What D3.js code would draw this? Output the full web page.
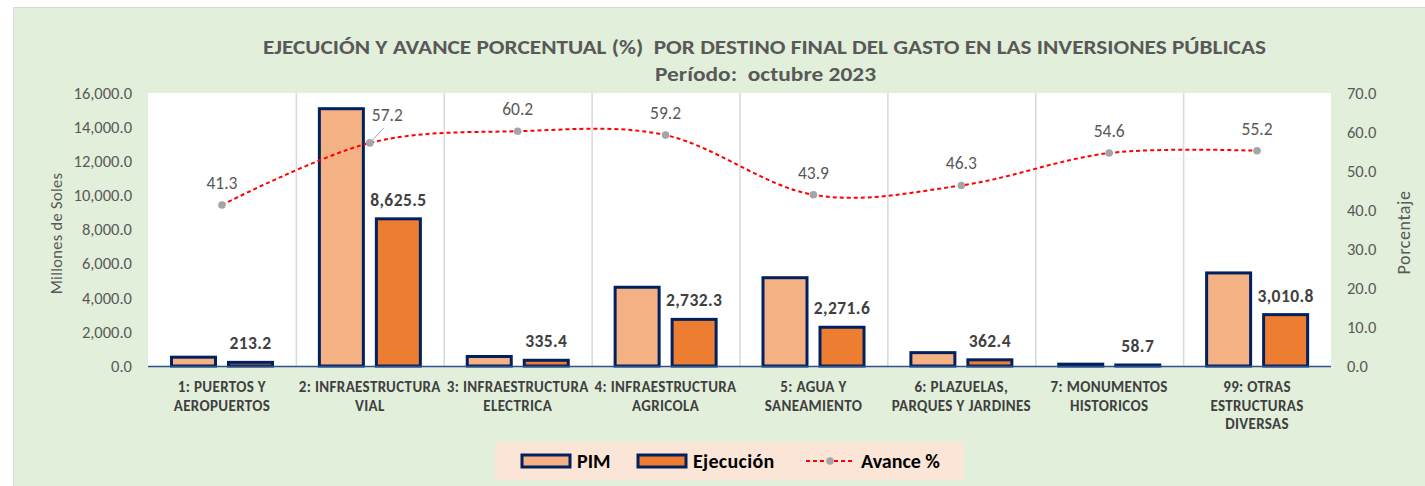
<!DOCTYPE html>
<html><head><meta charset="utf-8">
<script src="https://cdn.jsdelivr.net/npm/d3@7"></script>
<style>
body{margin:0;background:#fff}
svg{display:block}
text{font-family:Carlito,Calibri,Lato,'Open Sans',sans-serif}
</style></head>
<body><svg id="c" width="1425" height="486"></svg>
<script>
const categories = ["1: PUERTOS Y AEROPUERTOS","2: INFRAESTRUCTURA VIAL","3: INFRAESTRUCTURA ELECTRICA","4: INFRAESTRUCTURA AGRICOLA","5: AGUA Y SANEAMIENTO","6: PLAZUELAS, PARQUES Y JARDINES","7: MONUMENTOS HISTORICOS","99: OTRAS ESTRUCTURAS DIVERSAS"];
const categoryLines = [["1: PUERTOS Y","AEROPUERTOS"],["2: INFRAESTRUCTURA","VIAL"],["3: INFRAESTRUCTURA","ELECTRICA"],["4: INFRAESTRUCTURA","AGRICOLA"],["5: AGUA Y","SANEAMIENTO"],["6: PLAZUELAS,","PARQUES Y JARDINES"],["7: MONUMENTOS","HISTORICOS"],["99: OTRAS","ESTRUCTURAS","DIVERSAS"]];
const pim = [516.2, 15079.5, 557.1, 4615.4, 5174.5, 782.7, 107.5, 5454.3];
const ejecucion = [213.2, 8625.5, 335.4, 2732.3, 2271.6, 362.4, 58.7, 3010.8];
const avance = [41.3, 57.2, 60.2, 59.2, 43.9, 46.3, 54.6, 55.2];
const leftTicks = [0, 2000, 4000, 6000, 8000, 10000, 12000, 14000, 16000];
const rightTicks = [0, 10, 20, 30, 40, 50, 60, 70];
const seriesNames = ["PIM", "Ejecución", "Avance %"];
const titleText = "EJECUCIÓN Y AVANCE PORCENTUAL (%)  POR DESTINO FINAL DEL GASTO EN LAS INVERSIONES PÚBLICAS";
const subtitleText = "Período:  octubre 2023";
const leftTitle = "Millones de Soles";
const rightTitle = "Porcentaje";

const svg = d3.select("#c");
const W = 1425, H = 486;
const plot = {l:148, r:1331, t:93, b:366};

svg.append("rect").attr("x",13.5).attr("y",7.5).attr("width",W).attr("height",H)
  .attr("fill","#E2EFDA").attr("stroke","#D9D9D9").attr("stroke-width",1);
svg.append("rect").attr("x",plot.l).attr("y",plot.t).attr("width",plot.r-plot.l).attr("height",plot.b-plot.t).attr("fill","#fff");

const x0 = d3.scaleBand().domain(categories).range([plot.l, plot.r]).padding(0);
const x1 = d3.scaleBand().domain(["PIM","Ejec"]).range([23.5, 124.5]).paddingInner(0.228).paddingOuter(0);
const yL = d3.scaleLinear().domain([0,16000]).range([plot.b, plot.t]);
const yR = d3.scaleLinear().domain([0,70]).range([plot.b, plot.t]);
const fmt1 = d3.format(",.1f");

svg.append("g").selectAll("line").data(categories.slice(1)).join("line")
  .attr("x1",d=>x0(d)+0.5).attr("x2",d=>x0(d)+0.5).attr("y1",plot.t).attr("y2",plot.b)
  .attr("stroke","#D9D9D9").attr("stroke-width",1.5);

const axL = svg.append("g").attr("transform",`translate(${plot.l},0)`)
  .call(d3.axisLeft(yL).tickValues(leftTicks).tickFormat(fmt1).tickSize(0).tickPadding(16));
axL.select(".domain").remove();
axL.selectAll("text").attr("fill","#595959").style("font-size","16.5px").style("font-family","Carlito,Calibri,Lato,sans-serif");

const axR = svg.append("g").attr("transform",`translate(${plot.r},0)`)
  .call(d3.axisRight(yR).tickValues(rightTicks).tickFormat(d3.format(".1f")).tickSize(0).tickPadding(16));
axR.select(".domain").remove();
axR.selectAll("text").attr("fill","#595959").style("font-size","16.5px").style("font-family","Carlito,Calibri,Lato,sans-serif");

svg.append("text").attr("transform",`translate(62,${(plot.t+plot.b)/2+4}) rotate(-90)`)
  .attr("text-anchor","middle").attr("fill","#595959").style("font-size","16.5px").style("letter-spacing","0.3px").text(leftTitle);
svg.append("text").attr("transform",`translate(1410,${(plot.t+plot.b)/2+3}) rotate(-90)`)
  .attr("text-anchor","middle").attr("fill","#595959").style("font-size","18px").style("letter-spacing","0.6px").text(rightTitle);

const groups = svg.append("g").selectAll("g").data(categories).join("g")
  .attr("transform",d=>`translate(${x0(d)},0)`);
groups.append("rect").attr("x",x1("PIM")).attr("width",x1.bandwidth())
  .attr("y",(d,i)=>yL(pim[i])).attr("height",(d,i)=>yL(0)-yL(pim[i]))
  .attr("fill","#F4B183").attr("stroke","#002060").attr("stroke-width",3);
groups.append("rect").attr("x",x1("Ejec")).attr("width",x1.bandwidth())
  .attr("y",(d,i)=>yL(ejecucion[i])).attr("height",(d,i)=>yL(0)-yL(ejecucion[i]))
  .attr("fill","#ED7D31").attr("stroke","#002060").attr("stroke-width",3);
groups.append("text").attr("x",x1("Ejec")+x1.bandwidth()/2)
  .attr("y",(d,i)=>yL(ejecucion[i])-13)
  .attr("text-anchor","middle").attr("fill","#404040").style("font-size","17.5px").style("font-weight","bold").style("letter-spacing","0.4px")
  .text((d,i)=>fmt1(ejecucion[i]));

svg.append("line").attr("x1",plot.l).attr("x2",plot.r).attr("y1",plot.b+0.5).attr("y2",plot.b+0.5)
  .attr("stroke","#2F4F8F").attr("stroke-width",1.5);

const xl = svg.append("g").selectAll("text").data(categories).join("text")
  .attr("x",d=>x0(d)+x0.bandwidth()/2).attr("y",392)
  .attr("text-anchor","middle").attr("fill","#404040").style("font-size","15px").style("font-weight","bold").style("letter-spacing","0.35px");
xl.each(function(d,i){
  d3.select(this).selectAll("tspan").data(categoryLines[i]).join("tspan")
    .attr("x",x0(d)+x0.bandwidth()/2).attr("dy",(t,j)=>j===0?0:18.5).text(t=>t);
});

const cx = d=>x0(d)+x0.bandwidth()/2;
const line = d3.line().x((v,i)=>cx(categories[i])).y(v=>yR(v)).curve(d3.curveCardinal.tension(0));
svg.append("path").datum(avance).attr("d",line).attr("fill","none")
  .attr("stroke","#FF0000").attr("stroke-width",2).attr("stroke-dasharray","4,3");
svg.append("g").selectAll("circle").data(avance).join("circle")
  .attr("cx",(v,i)=>cx(categories[i])).attr("cy",v=>yR(v)).attr("r",3.8).attr("fill","#A5A5A5");
svg.append("line").attr("x1",cx(categories[1])+1).attr("y1",yR(avance[1])-1)
  .attr("x2",cx(categories[1])+14).attr("y2",yR(avance[1])-15).attr("stroke","#A5A5A5").attr("stroke-width",1);
svg.append("g").selectAll("text").data(avance).join("text")
  .attr("x",(v,i)=>i===1?cx(categories[i])+2:cx(categories[i]))
  .attr("y",(v,i)=>i===1?yR(v)-22:yR(v)-16)
  .attr("text-anchor",(v,i)=>i===1?"start":"middle")
  .attr("fill","#595959").style("font-size","17.5px").text(v=>d3.format(".1f")(v));

svg.append("text").attr("x",764.5).attr("y",54).attr("text-anchor","middle").style("white-space","pre")
  .attr("fill","#595959").style("font-size","20px").style("font-weight","bold").text(titleText)
  .attr("textLength",1003).attr("lengthAdjust","spacingAndGlyphs");
svg.append("text").attr("x",765.5).attr("y",81).attr("text-anchor","middle").style("white-space","pre")
  .attr("fill","#595959").style("font-size","20px").style("font-weight","bold").text(subtitleText)
  .attr("textLength",221).attr("lengthAdjust","spacingAndGlyphs");

const lg = svg.append("g");
lg.append("rect").attr("x",495).attr("y",442).attr("width",469).attr("height",38).attr("fill","#FBE5D6");
lg.append("rect").attr("x",522).attr("y",455).attr("width",48).attr("height",12).attr("fill","#F4B183").attr("stroke","#002060").attr("stroke-width",3);
lg.append("text").attr("x",577).attr("y",468).attr("fill","#000").style("font-size","20px").style("font-weight","bold").text(seriesNames[0]);
lg.append("rect").attr("x",638).attr("y",455).attr("width",48).attr("height",12).attr("fill","#ED7D31").attr("stroke","#002060").attr("stroke-width",3);
lg.append("text").attr("x",693).attr("y",468).attr("fill","#000").style("font-size","20px").style("font-weight","bold").style("letter-spacing","0.3px").text(seriesNames[1]);
lg.append("line").attr("x1",806).attr("x2",855).attr("y1",461).attr("y2",461).attr("stroke","#FF0000").attr("stroke-width",2).attr("stroke-dasharray","4,3");
lg.append("circle").attr("cx",830).attr("cy",461).attr("r",3.8).attr("fill","#A5A5A5");
lg.append("text").attr("x",861).attr("y",468).attr("fill","#000").style("font-size","20px").style("font-weight","bold").text(seriesNames[2]);
</script></body></html>
